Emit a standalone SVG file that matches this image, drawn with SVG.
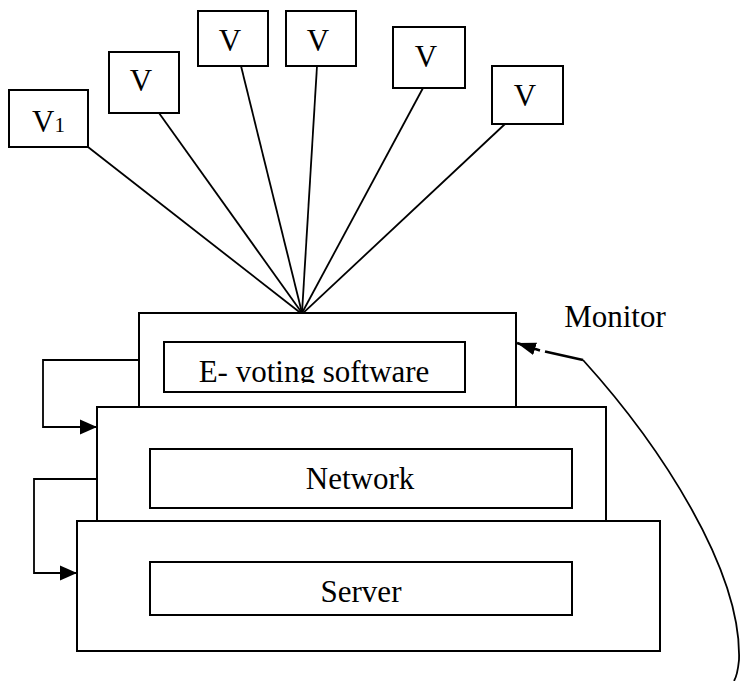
<svg xmlns="http://www.w3.org/2000/svg" width="740" height="681" viewBox="0 0 740 681">
<style>
.box{fill:#fff;stroke:#000;stroke-width:2}
.ln{fill:none;stroke:#000;stroke-width:1.8}
.t{font-family:"Liberation Serif","Times New Roman",serif;font-size:31px;fill:#000}
.c{text-anchor:middle}
</style>
<defs>
<marker id="ah" markerUnits="userSpaceOnUse" markerWidth="18" markerHeight="16" viewBox="0 0 18 16" refX="17" refY="8" orient="auto">
<path d="M0,0.5 L17,8 L0,15.5 Z" fill="#000"/>
</marker>
<marker id="ah2" markerUnits="userSpaceOnUse" markerWidth="20" markerHeight="16" viewBox="0 0 20 16" refX="19" refY="8" orient="auto">
<path d="M0,1.5 L19,8 L0,14.5 Z" fill="#000"/>
</marker>
<clipPath id="clipE"><rect x="164" y="342" width="301" height="41"/></clipPath>
</defs>

<g id="connectors">
<line class="ln" x1="88" y1="147" x2="308.3" y2="319"/>
<line class="ln" x1="159" y1="113" x2="302" y2="313"/>
<line class="ln" x1="241" y1="66" x2="302" y2="313"/>
<line class="ln" x1="317" y1="66" x2="302" y2="313"/>
<line class="ln" x1="423" y1="88" x2="302" y2="313"/>
<line class="ln" x1="505" y1="124" x2="296.6" y2="319.2"/>
</g>

<g id="server">
<rect class="box" x="77" y="521" width="583" height="130"/>
<rect class="box" x="150" y="562" width="422" height="53"/>
<text class="t c" x="361" y="602">Server</text>
</g>

<g id="network">
<rect class="box" x="97" y="407" width="509" height="114"/>
<rect class="box" x="150" y="449" width="422" height="59"/>
<text class="t c" x="360" y="489">Network</text>
</g>

<g id="evoting">
<rect class="box" x="139" y="313" width="377" height="94"/>
<rect class="box" x="164" y="342" width="301" height="50"/>
<text class="t c" x="314" y="382" clip-path="url(#clipE)">E- voting software</text>
</g>

<g id="v1">
<rect class="box" x="9" y="90" width="79" height="57"/>
<text class="t" x="32" y="132">V<tspan font-size="21">1</tspan></text>
</g>
<g id="v2">
<rect class="box" x="109" y="52" width="70" height="61"/>
<text class="t c" x="141" y="91">V</text>
</g>
<g id="v3">
<rect class="box" x="198" y="11" width="70" height="55"/>
<text class="t c" x="230" y="51">V</text>
</g>
<g id="v4">
<rect class="box" x="286" y="11" width="70" height="55"/>
<text class="t c" x="318" y="51">V</text>
</g>
<g id="v5">
<rect class="box" x="393" y="27" width="72" height="61"/>
<text class="t c" x="426" y="67">V</text>
</g>
<g id="v6">
<rect class="box" x="492" y="66" width="71" height="58"/>
<text class="t c" x="525" y="106">V</text>
</g>

<g id="monitor">
<text class="t c" x="615" y="327">Monitor</text>
</g>

<g id="links">
<polyline class="ln" points="139,360 43,360 43,427 97,427" marker-end="url(#ah)"/>
<polyline class="ln" points="97,479 34,479 34,573 77,573" marker-end="url(#ah)"/>
<path class="ln" d="M734,681 C737,676 738,670 739,660 C742,570 660,445 583,360"/>
<line x1="583" y1="360" x2="545" y2="351.5" stroke="#000" stroke-width="2.6"/>
<line x1="540" y1="350.4" x2="517" y2="343" stroke="#000" stroke-width="2.6" marker-end="url(#ah2)"/>
</g>
</svg>
